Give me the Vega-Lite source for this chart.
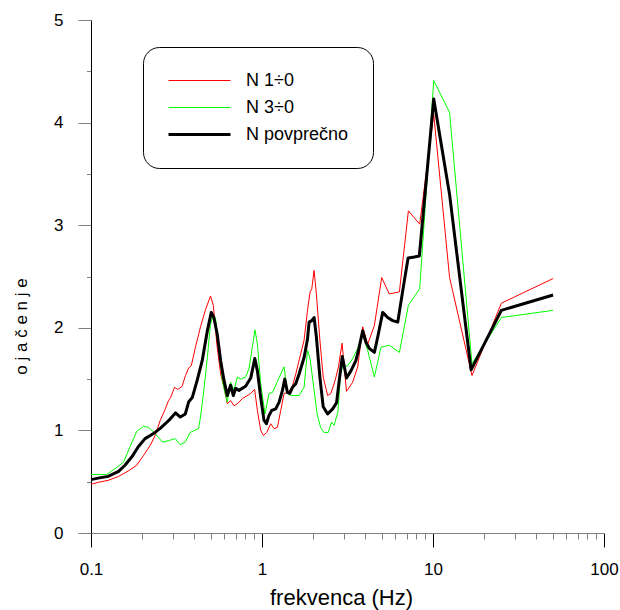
{
  "$schema": "https://vega.github.io/schema/vega-lite/v6.json",
  "width": 513,
  "height": 513,
  "autosize": {"type": "none"},
  "padding": {"left": 91, "top": 20, "right": 16, "bottom": 77},
  "background": "white",
  "config": {
    "font": "Liberation Sans",
    "view": {"stroke": null},
    "legend": {
      "orient": "none",
      "legendX": 52,
      "legendY": 27,
      "title": null,
      "symbolType": "stroke",
      "symbolSize": 3844,
      "clipHeight": 19,
      "labelFontSize": 18,
      "labelFont": "Liberation Sans",
      "labelColor": "black",
      "strokeColor": "black",
      "cornerRadius": 16,
      "padding": 24,
      "fillColor": "white",
      "rowPadding": 8,
      "labelOffset": 14
    }
  },
  "data": {
    "values": [
      {"s": "N 1÷0", "f": 0.1, "v": 0.474},
      {"s": "N 1÷0", "f": 0.11, "v": 0.494},
      {"s": "N 1÷0", "f": 0.126, "v": 0.513},
      {"s": "N 1÷0", "f": 0.145, "v": 0.552},
      {"s": "N 1÷0", "f": 0.165, "v": 0.604},
      {"s": "N 1÷0", "f": 0.185, "v": 0.66},
      {"s": "N 1÷0", "f": 0.203, "v": 0.757},
      {"s": "N 1÷0", "f": 0.222, "v": 0.854},
      {"s": "N 1÷0", "f": 0.237, "v": 0.95},
      {"s": "N 1÷0", "f": 0.254, "v": 1.097},
      {"s": "N 1÷0", "f": 0.272, "v": 1.21},
      {"s": "N 1÷0", "f": 0.284, "v": 1.29},
      {"s": "N 1÷0", "f": 0.292, "v": 1.32},
      {"s": "N 1÷0", "f": 0.308, "v": 1.42},
      {"s": "N 1÷0", "f": 0.322, "v": 1.4},
      {"s": "N 1÷0", "f": 0.341, "v": 1.43},
      {"s": "N 1÷0", "f": 0.357, "v": 1.535},
      {"s": "N 1÷0", "f": 0.373, "v": 1.61},
      {"s": "N 1÷0", "f": 0.386, "v": 1.63},
      {"s": "N 1÷0", "f": 0.408, "v": 1.81},
      {"s": "N 1÷0", "f": 0.437, "v": 2.01},
      {"s": "N 1÷0", "f": 0.468, "v": 2.18},
      {"s": "N 1÷0", "f": 0.5, "v": 2.31},
      {"s": "N 1÷0", "f": 0.519, "v": 2.22},
      {"s": "N 1÷0", "f": 0.547, "v": 1.81},
      {"s": "N 1÷0", "f": 0.573, "v": 1.55},
      {"s": "N 1÷0", "f": 0.599, "v": 1.42},
      {"s": "N 1÷0", "f": 0.627, "v": 1.26},
      {"s": "N 1÷0", "f": 0.655, "v": 1.29},
      {"s": "N 1÷0", "f": 0.686, "v": 1.24},
      {"s": "N 1÷0", "f": 0.718, "v": 1.26},
      {"s": "N 1÷0", "f": 0.768, "v": 1.31},
      {"s": "N 1÷0", "f": 0.859, "v": 1.36},
      {"s": "N 1÷0", "f": 0.905, "v": 1.4},
      {"s": "N 1÷0", "f": 0.94, "v": 1.195},
      {"s": "N 1÷0", "f": 0.983, "v": 1.0},
      {"s": "N 1÷0", "f": 1.019, "v": 0.95},
      {"s": "N 1÷0", "f": 1.066, "v": 0.98},
      {"s": "N 1÷0", "f": 1.125, "v": 1.065},
      {"s": "N 1÷0", "f": 1.176, "v": 1.017},
      {"s": "N 1÷0", "f": 1.231, "v": 1.03},
      {"s": "N 1÷0", "f": 1.287, "v": 1.195},
      {"s": "N 1÷0", "f": 1.346, "v": 1.36},
      {"s": "N 1÷0", "f": 1.42, "v": 1.37},
      {"s": "N 1÷0", "f": 1.5, "v": 1.42},
      {"s": "N 1÷0", "f": 1.576, "v": 1.55},
      {"s": "N 1÷0", "f": 1.686, "v": 1.75},
      {"s": "N 1÷0", "f": 1.763, "v": 1.88},
      {"s": "N 1÷0", "f": 1.845, "v": 2.17},
      {"s": "N 1÷0", "f": 1.911, "v": 2.35},
      {"s": "N 1÷0", "f": 1.955, "v": 2.38},
      {"s": "N 1÷0", "f": 2.017, "v": 2.56},
      {"s": "N 1÷0", "f": 2.08, "v": 2.33},
      {"s": "N 1÷0", "f": 2.18, "v": 1.88},
      {"s": "N 1÷0", "f": 2.28, "v": 1.52},
      {"s": "N 1÷0", "f": 2.42, "v": 1.34},
      {"s": "N 1÷0", "f": 2.53, "v": 1.36},
      {"s": "N 1÷0", "f": 2.68, "v": 1.49},
      {"s": "N 1÷0", "f": 2.8, "v": 1.62},
      {"s": "N 1÷0", "f": 2.94, "v": 1.85},
      {"s": "N 1÷0", "f": 3.12, "v": 1.38},
      {"s": "N 1÷0", "f": 3.39, "v": 1.47},
      {"s": "N 1÷0", "f": 3.63, "v": 1.62},
      {"s": "N 1÷0", "f": 3.88, "v": 2.01},
      {"s": "N 1÷0", "f": 4.15, "v": 1.84},
      {"s": "N 1÷0", "f": 4.54, "v": 2.02},
      {"s": "N 1÷0", "f": 5.01, "v": 2.49},
      {"s": "N 1÷0", "f": 5.55, "v": 2.33},
      {"s": "N 1÷0", "f": 6.36, "v": 2.35},
      {"s": "N 1÷0", "f": 7.18, "v": 3.14},
      {"s": "N 1÷0", "f": 8.36, "v": 3.01},
      {"s": "N 1÷0", "f": 10.1, "v": 4.08},
      {"s": "N 1÷0", "f": 12.5, "v": 2.49},
      {"s": "N 1÷0", "f": 16.9, "v": 1.535},
      {"s": "N 1÷0", "f": 25.1, "v": 2.24},
      {"s": "N 1÷0", "f": 50.4, "v": 2.48},

      {"s": "N 3÷0", "f": 0.1, "v": 0.57},
      {"s": "N 3÷0", "f": 0.1235, "v": 0.57},
      {"s": "N 3÷0", "f": 0.138, "v": 0.627},
      {"s": "N 3÷0", "f": 0.155, "v": 0.69},
      {"s": "N 3÷0", "f": 0.169, "v": 0.84},
      {"s": "N 3÷0", "f": 0.185, "v": 0.99},
      {"s": "N 3÷0", "f": 0.203, "v": 1.04},
      {"s": "N 3÷0", "f": 0.217, "v": 1.03},
      {"s": "N 3÷0", "f": 0.237, "v": 0.97},
      {"s": "N 3÷0", "f": 0.262, "v": 0.886},
      {"s": "N 3÷0", "f": 0.284, "v": 0.9},
      {"s": "N 3÷0", "f": 0.311, "v": 0.92},
      {"s": "N 3÷0", "f": 0.332, "v": 0.86},
      {"s": "N 3÷0", "f": 0.356, "v": 0.886},
      {"s": "N 3÷0", "f": 0.38, "v": 0.98},
      {"s": "N 3÷0", "f": 0.425, "v": 1.017},
      {"s": "N 3÷0", "f": 0.437, "v": 1.13},
      {"s": "N 3÷0", "f": 0.457, "v": 1.39},
      {"s": "N 3÷0", "f": 0.479, "v": 1.71},
      {"s": "N 3÷0", "f": 0.5, "v": 2.04},
      {"s": "N 3÷0", "f": 0.519, "v": 2.12},
      {"s": "N 3÷0", "f": 0.535, "v": 2.09},
      {"s": "N 3÷0", "f": 0.56, "v": 1.81},
      {"s": "N 3÷0", "f": 0.586, "v": 1.49},
      {"s": "N 3÷0", "f": 0.613, "v": 1.34},
      {"s": "N 3÷0", "f": 0.627, "v": 1.275},
      {"s": "N 3÷0", "f": 0.655, "v": 1.47},
      {"s": "N 3÷0", "f": 0.686, "v": 1.39},
      {"s": "N 3÷0", "f": 0.718, "v": 1.52},
      {"s": "N 3÷0", "f": 0.75, "v": 1.5},
      {"s": "N 3÷0", "f": 0.802, "v": 1.52},
      {"s": "N 3÷0", "f": 0.839, "v": 1.6},
      {"s": "N 3÷0", "f": 0.878, "v": 1.81},
      {"s": "N 3÷0", "f": 0.91, "v": 1.98},
      {"s": "N 3÷0", "f": 0.94, "v": 1.84},
      {"s": "N 3÷0", "f": 0.983, "v": 1.455},
      {"s": "N 3÷0", "f": 1.041, "v": 1.16},
      {"s": "N 3÷0", "f": 1.099, "v": 1.36},
      {"s": "N 3÷0", "f": 1.151, "v": 1.37},
      {"s": "N 3÷0", "f": 1.214, "v": 1.455},
      {"s": "N 3÷0", "f": 1.287, "v": 1.55},
      {"s": "N 3÷0", "f": 1.346, "v": 1.62},
      {"s": "N 3÷0", "f": 1.409, "v": 1.36},
      {"s": "N 3÷0", "f": 1.47, "v": 1.34},
      {"s": "N 3÷0", "f": 1.648, "v": 1.34},
      {"s": "N 3÷0", "f": 1.763, "v": 1.42},
      {"s": "N 3÷0", "f": 1.845, "v": 1.78},
      {"s": "N 3÷0", "f": 1.91, "v": 1.7},
      {"s": "N 3÷0", "f": 2.1, "v": 1.16},
      {"s": "N 3÷0", "f": 2.2, "v": 1.03},
      {"s": "N 3÷0", "f": 2.3, "v": 0.98},
      {"s": "N 3÷0", "f": 2.44, "v": 0.98},
      {"s": "N 3÷0", "f": 2.55, "v": 1.08},
      {"s": "N 3÷0", "f": 2.64, "v": 1.05},
      {"s": "N 3÷0", "f": 2.78, "v": 1.18},
      {"s": "N 3÷0", "f": 2.88, "v": 1.55},
      {"s": "N 3÷0", "f": 2.96, "v": 1.62},
      {"s": "N 3÷0", "f": 3.17, "v": 1.63},
      {"s": "N 3÷0", "f": 3.39, "v": 1.7},
      {"s": "N 3÷0", "f": 3.63, "v": 1.8},
      {"s": "N 3÷0", "f": 3.88, "v": 1.94},
      {"s": "N 3÷0", "f": 4.15, "v": 1.78},
      {"s": "N 3÷0", "f": 4.54, "v": 1.52},
      {"s": "N 3÷0", "f": 4.96, "v": 1.81},
      {"s": "N 3÷0", "f": 5.55, "v": 1.83},
      {"s": "N 3÷0", "f": 6.36, "v": 1.76},
      {"s": "N 3÷0", "f": 7.18, "v": 2.22},
      {"s": "N 3÷0", "f": 8.36, "v": 2.38},
      {"s": "N 3÷0", "f": 10.1, "v": 4.41},
      {"s": "N 3÷0", "f": 12.5, "v": 4.1},
      {"s": "N 3÷0", "f": 16.9, "v": 1.65},
      {"s": "N 3÷0", "f": 25.1, "v": 2.1},
      {"s": "N 3÷0", "f": 50.4, "v": 2.17},

      {"s": "N povprečno", "f": 0.1, "v": 0.52},
      {"s": "N povprečno", "f": 0.11, "v": 0.535},
      {"s": "N povprečno", "f": 0.126, "v": 0.552},
      {"s": "N povprečno", "f": 0.145, "v": 0.6},
      {"s": "N povprečno", "f": 0.158, "v": 0.66},
      {"s": "N povprečno", "f": 0.173, "v": 0.74},
      {"s": "N povprečno", "f": 0.189, "v": 0.84},
      {"s": "N povprečno", "f": 0.207, "v": 0.92},
      {"s": "N povprečno", "f": 0.222, "v": 0.95},
      {"s": "N povprečno", "f": 0.237, "v": 0.98},
      {"s": "N povprečno", "f": 0.254, "v": 1.02},
      {"s": "N povprečno", "f": 0.272, "v": 1.065},
      {"s": "N povprečno", "f": 0.29, "v": 1.11},
      {"s": "N povprečno", "f": 0.312, "v": 1.17},
      {"s": "N povprečno", "f": 0.333, "v": 1.13},
      {"s": "N povprečno", "f": 0.356, "v": 1.16},
      {"s": "N povprečno", "f": 0.373, "v": 1.28},
      {"s": "N povprečno", "f": 0.391, "v": 1.32},
      {"s": "N povprečno", "f": 0.418, "v": 1.49},
      {"s": "N povprečno", "f": 0.447, "v": 1.68},
      {"s": "N povprečno", "f": 0.479, "v": 1.97},
      {"s": "N povprečno", "f": 0.505, "v": 2.15},
      {"s": "N povprečno", "f": 0.523, "v": 2.1},
      {"s": "N povprečno", "f": 0.547, "v": 1.94},
      {"s": "N povprečno", "f": 0.573, "v": 1.68},
      {"s": "N povprečno", "f": 0.599, "v": 1.49},
      {"s": "N povprečno", "f": 0.627, "v": 1.34},
      {"s": "N povprečno", "f": 0.655, "v": 1.44},
      {"s": "N povprečno", "f": 0.68, "v": 1.34},
      {"s": "N povprečno", "f": 0.701, "v": 1.41},
      {"s": "N povprečno", "f": 0.733, "v": 1.39},
      {"s": "N povprečno", "f": 0.802, "v": 1.43},
      {"s": "N povprečno", "f": 0.859, "v": 1.51},
      {"s": "N povprečno", "f": 0.908, "v": 1.7},
      {"s": "N povprečno", "f": 0.94, "v": 1.58},
      {"s": "N povprečno", "f": 0.983, "v": 1.32},
      {"s": "N povprečno", "f": 1.027, "v": 1.1},
      {"s": "N povprečno", "f": 1.061, "v": 1.065},
      {"s": "N povprečno", "f": 1.099, "v": 1.146},
      {"s": "N povprečno", "f": 1.14, "v": 1.195},
      {"s": "N povprečno", "f": 1.203, "v": 1.21},
      {"s": "N povprečno", "f": 1.259, "v": 1.275},
      {"s": "N povprečno", "f": 1.317, "v": 1.39},
      {"s": "N povprečno", "f": 1.359, "v": 1.5},
      {"s": "N povprečno", "f": 1.409, "v": 1.37},
      {"s": "N povprečno", "f": 1.453, "v": 1.36},
      {"s": "N povprečno", "f": 1.507, "v": 1.42},
      {"s": "N povprečno", "f": 1.576, "v": 1.455},
      {"s": "N povprečno", "f": 1.648, "v": 1.55},
      {"s": "N povprečno", "f": 1.763, "v": 1.71},
      {"s": "N povprečno", "f": 1.845, "v": 1.89},
      {"s": "N povprečno", "f": 1.886, "v": 2.055},
      {"s": "N povprečno", "f": 1.955, "v": 2.07},
      {"s": "N povprečno", "f": 2.017, "v": 2.1},
      {"s": "N povprečno", "f": 2.08, "v": 1.91},
      {"s": "N povprečno", "f": 2.18, "v": 1.52},
      {"s": "N povprečno", "f": 2.28, "v": 1.23},
      {"s": "N povprečno", "f": 2.42, "v": 1.16},
      {"s": "N povprečno", "f": 2.59, "v": 1.21},
      {"s": "N povprečno", "f": 2.73, "v": 1.27},
      {"s": "N povprečno", "f": 2.83, "v": 1.49},
      {"s": "N povprečno", "f": 2.95, "v": 1.72},
      {"s": "N povprečno", "f": 3.12, "v": 1.51},
      {"s": "N povprečno", "f": 3.31, "v": 1.58},
      {"s": "N povprečno", "f": 3.54, "v": 1.68},
      {"s": "N povprečno", "f": 3.7, "v": 1.81},
      {"s": "N povprečno", "f": 3.88, "v": 1.97},
      {"s": "N povprečno", "f": 4.05, "v": 1.86},
      {"s": "N povprečno", "f": 4.24, "v": 1.8},
      {"s": "N povprečno", "f": 4.54, "v": 1.76},
      {"s": "N povprečno", "f": 4.75, "v": 1.91},
      {"s": "N povprečno", "f": 5.08, "v": 2.15},
      {"s": "N povprečno", "f": 5.43, "v": 2.1},
      {"s": "N povprečno", "f": 5.81, "v": 2.07},
      {"s": "N povprečno", "f": 6.22, "v": 2.055},
      {"s": "N povprečno", "f": 6.65, "v": 2.36},
      {"s": "N povprečno", "f": 7.15, "v": 2.68},
      {"s": "N povprečno", "f": 7.78, "v": 2.69},
      {"s": "N povprečno", "f": 8.32, "v": 2.7},
      {"s": "N povprečno", "f": 10.1, "v": 4.23},
      {"s": "N povprečno", "f": 12.5, "v": 3.3},
      {"s": "N povprečno", "f": 16.7, "v": 1.59},
      {"s": "N povprečno", "f": 25.1, "v": 2.17},
      {"s": "N povprečno", "f": 50.4, "v": 2.32}
    ]
  },
  "layer": [
    {
      "mark": {"type": "line", "opacity": 0},
      "encoding": {
        "x": {
          "field": "f",
          "type": "quantitative",
          "scale": {"type": "log", "domain": [0.1, 100]},
          "axis": {
            "orient": "bottom",
            "title": null,
            "values": [0.2, 0.3, 0.4, 0.5, 0.6, 0.7, 0.8, 0.9, 2, 3, 4, 5, 6, 7, 8, 9, 20, 30, 40, 50, 60, 70, 80, 90],
            "labels": false,
            "domain": false,
            "grid": false,
            "ticks": true,
            "tickSize": 6,
            "tickColor": "#808080"
          }
        },
        "y": {
          "field": "v",
          "type": "quantitative",
          "scale": {"domain": [0, 5]},
          "axis": {
            "orient": "left",
            "title": null,
            "values": [0.5, 1.5, 2.5, 3.5, 4.5],
            "labels": false,
            "domain": false,
            "grid": false,
            "ticks": true,
            "tickSize": 4.5,
            "tickColor": "#808080"
          }
        },
        "detail": {"field": "s", "type": "nominal"}
      }
    },
    {
      "mark": {"type": "line", "interpolate": "linear", "strokeJoin": "round"},
      "encoding": {
        "x": {
          "field": "f",
          "type": "quantitative",
          "scale": {"type": "log", "domain": [0.1, 100]},
          "axis": {
            "orient": "bottom",
            "title": "frekvenca (Hz)",
            "titleFontSize": 22,
            "titleFontWeight": "normal",
            "titleColor": "black",
            "titlePadding": 10,
            "titleX": 250,
            "values": [0.1, 1, 10, 100],
            "labelExpr": "'' + datum.value",
            "ticks": true,
            "tickSize": 14,
            "tickColor": "black",
            "domainColor": "#808080",
            "labelFontSize": 17,
            "labelColor": "black",
            "labelPadding": 14,
            "labelFlush": false,
            "labelOverlap": false,
            "grid": false
          }
        },
        "y": {
          "field": "v",
          "type": "quantitative",
          "scale": {"domain": [0, 5]},
          "axis": {
            "orient": "left",
            "title": "o j a č e n j e",
            "titleFontSize": 17,
            "titleFontWeight": "normal",
            "titleColor": "black",
            "titleX": -70,
            "titleY": 306,
            "titleBaseline": "middle",
            "values": [0, 1, 2, 3, 4, 5],
            "labelExpr": "'' + datum.value",
            "ticks": true,
            "tickSize": 13,
            "tickColor": "#808080",
            "domainColor": "black",
            "labelFontSize": 17,
            "labelColor": "black",
            "labelPadding": 15,
            "labelFlush": false,
            "labelOverlap": false,
            "grid": false
          }
        },
        "color": {
          "field": "s",
          "type": "nominal",
          "scale": {"domain": ["N 1÷0", "N 3÷0", "N povprečno"], "range": ["#ff0000", "#00ff00", "#000000"]}
        },
        "strokeWidth": {
          "field": "s",
          "type": "nominal",
          "scale": {"type": "ordinal", "domain": ["N 1÷0", "N 3÷0", "N povprečno"], "range": [1, 1, 3]}
        }
      }
    }
  ],
  "resolve": {"axis": {"x": "independent", "y": "independent"}}
}
